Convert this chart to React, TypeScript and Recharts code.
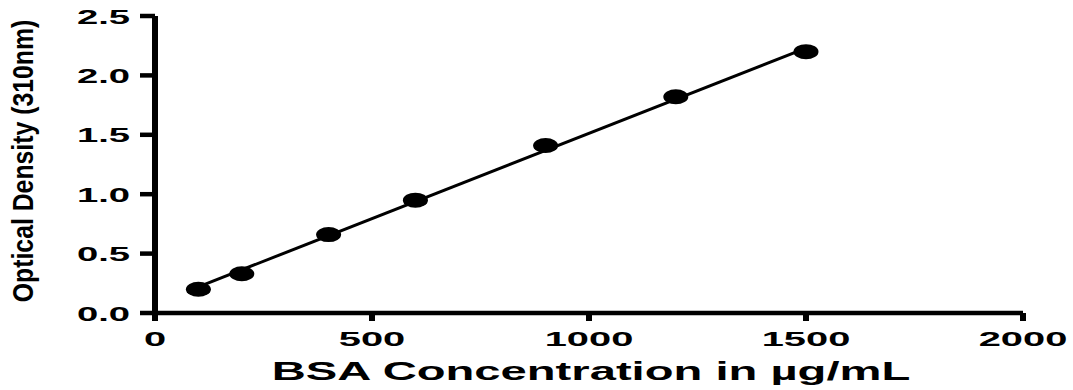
import { Label, Scatter, ScatterChart, XAxis, YAxis } from "recharts";

// BSA standard curve
const concentrations = [100, 200, 400, 600, 900, 1200, 1500];
const densities = [0.2, 0.33, 0.66, 0.95, 1.41, 1.82, 2.2];

// fitted line, both ends
const fitX = [100, 1500];
const fitY = [0.22, 2.23];

const xTicks = [0, 500, 1000, 1500, 2000];
const yTicks = [0, 0.5, 1, 1.5, 2, 2.5];

const font = "'Liberation Sans', Arial, Helvetica, sans-serif";

function XTick({ x, y, payload }: any) {
  return (
    <text
      transform={`translate(${x},${y}) scale(1.9,1)`}
      textAnchor="middle"
      dy="0.716em"
      fontSize={21}
      fontWeight="bold"
      fontFamily={font}
      fill="#000"
    >
      {payload.value}
    </text>
  );
}

function YTick({ x, y, payload }: any) {
  return (
    <text
      transform={`translate(${x},${y}) scale(1.82,1)`}
      textAnchor="end"
      dy="0.357em"
      fontSize={21}
      fontWeight="bold"
      fontFamily={font}
      fill="#000"
    >
      {Number(payload.value).toFixed(1)}
    </text>
  );
}

function Dot(props: any) {
  return <ellipse cx={props.cx} cy={props.cy} rx={12.5} ry={7.5} fill="#000" />;
}

export default function App() {
  const points = concentrations.map((c, i) => ({ x: c, y: densities[i] }));
  const fit = fitX.map((c, i) => ({ x: c, y: fitY[i] }));

  return (
    <div style={{ position: "absolute", left: 0, top: 0, width: 1073, height: 390, background: "#fff" }}>
      <ScatterChart width={1073} height={390} margin={{ top: 16, right: 50, bottom: 0, left: 0 }}>
        <XAxis
          type="number"
          dataKey="x"
          domain={[0, 2000]}
          ticks={xTicks}
          height={77}
          tickSize={8}
          tickMargin={10}
          stroke="#000"
          axisLine={{ stroke: "#000", strokeWidth: 4.5 }}
          tickLine={{ stroke: "#000", strokeWidth: 6 }}
          tick={<XTick />}
        >
          <Label
            content={({ viewBox }: any) => (
              <text
                transform={`translate(${viewBox.x + viewBox.width / 2 + 2},${viewBox.y + 67}) scale(1.85,1)`}
                textAnchor="middle"
                fontSize={25.5}
                fontWeight="bold"
                fontFamily={font}
                fill="#000"
              >
                BSA Concentration in µg/mL
              </text>
            )}
          />
        </XAxis>
        <YAxis
          type="number"
          dataKey="y"
          domain={[0, 2.5]}
          ticks={yTicks}
          width={155}
          tickSize={15}
          tickMargin={10}
          stroke="#000"
          axisLine={{ stroke: "#000", strokeWidth: 6 }}
          tickLine={{ stroke: "#000", strokeWidth: 4.5 }}
          tick={<YTick />}
        >
          <Label
            content={({ viewBox }: any) => (
              <text
                transform={`translate(33,${viewBox.y + viewBox.height / 2 - 3.5}) rotate(-90) scale(1.24,1.5)`}
                textAnchor="middle"
                fontSize={20}
                fontWeight="bold"
                fontFamily={font}
                fill="#000"
              >
                Optical Density (310nm)
              </text>
            )}
          />
        </YAxis>
        <Scatter
          data={fit}
          line={{ stroke: "#000", strokeWidth: 3 }}
          lineType="joint"
          shape={() => <g />}
          isAnimationActive={false}
        />
        <Scatter data={points} fill="#000" shape={<Dot />} isAnimationActive={false} />
      </ScatterChart>
    </div>
  );
}
